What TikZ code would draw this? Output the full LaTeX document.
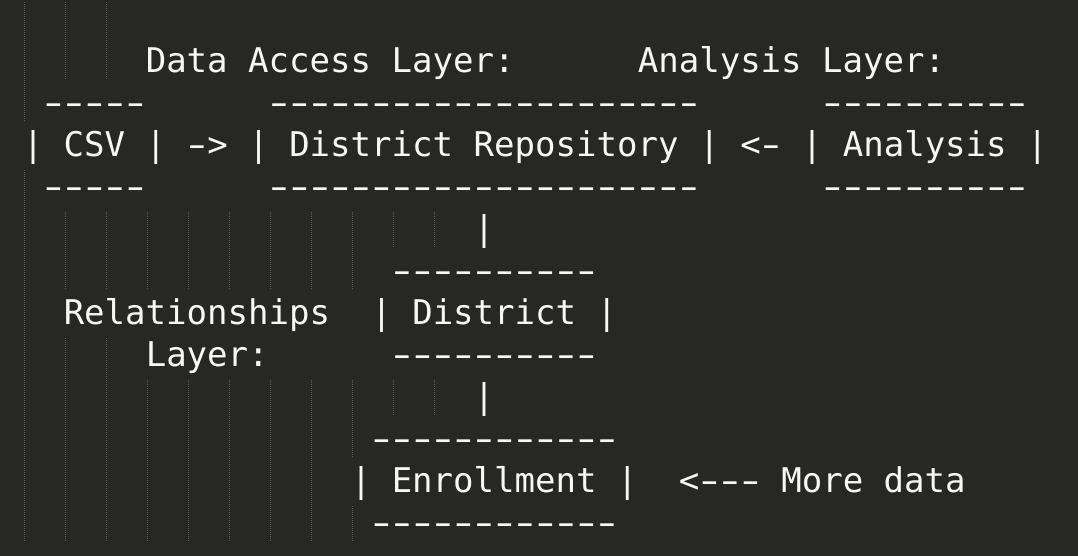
\documentclass[tikz,border=0pt]{standalone}
\usepackage{fontspec}
\usepackage{graphicx}
\setmonofont{DejaVu Sans Mono}
\definecolor{bg}{HTML}{272822}
\definecolor{fg}{HTML}{F8F8F2}
\definecolor{guidec}{HTML}{5A5A54}
% a hyphen drawn wide, as the editor font shows it, kept in its monospace cell
\newcommand\hyph{\makebox[0.602em][c]{\scalebox{1.55}[1]{-}}}
\newcommand\dashrow[1]{\foreach \i in {1,...,#1}{\hyph}}
\begin{document}
\begin{tikzpicture}[x=1pt,y=1pt,
  txt/.style={anchor=base west, inner sep=0pt, outer sep=0pt, text=fg,
    font=\fontsize{34.05}{42}\selectfont\ttfamily},
  guide/.style={draw=guidec, line width=1pt, dash pattern=on 1pt off 1pt}]
\fill[bg] (0,0) rectangle (1078,556);
\useasboundingbox (0,0) rectangle (1078,556);
% indentation guides: column / first row / last row
\foreach \c/\a/\b in {0/0/2, 0/4/12,
  2/0/1, 2/5/6, 2/8/12, 4/0/1, 4/5/6, 4/8/12,
  6/5/6, 6/9/12, 8/5/6, 8/9/12, 10/5/6, 10/9/12, 12/5/6, 12/9/12, 14/5/6, 14/9/12,
  16/5/6, 16/9/10, 16/12/12,
  18/5/5, 18/9/9, 20/5/5, 20/9/9}
  \draw[guide] ({24.5+20.5*\c},{554-42*\a}) -- ({24.5+20.5*\c},{518-42*\b});
% row 1
\node[txt] (dal) at ({22.75+20.5*6},{525-42*1}) {Data Access Layer:};
\node[txt] (al)  at ({22.75+20.5*30},{525-42*1}) {Analysis Layer:};
% row 2
\node[txt] (csvt)  at ({22.75+20.5*1},{525-42*2}) {\dashrow{5}};
\node[txt] (repot) at ({22.75+20.5*12},{525-42*2}) {\dashrow{21}};
\node[txt] (ant)   at ({22.75+20.5*39},{525-42*2}) {\dashrow{10}};
% row 3
\node[txt] (csv)  at ({22.75+20.5*0},{525-42*3}) {| CSV |};
\node[txt] (ar1)  at ({22.75+20.5*8},{525-42*3}) {\hyph>};
\node[txt] (repo) at ({22.75+20.5*11},{525-42*3}) {| District Repository |};
\node[txt] (ar2)  at ({22.75+20.5*35},{525-42*3}) {<\hyph};
\node[txt] (an)   at ({22.75+20.5*38},{525-42*3}) {| Analysis |};
% row 4
\node[txt] (csvb)  at ({22.75+20.5*1},{525-42*4}) {\dashrow{5}};
\node[txt] (repob) at ({22.75+20.5*12},{525-42*4}) {\dashrow{21}};
\node[txt] (anb)   at ({22.75+20.5*39},{525-42*4}) {\dashrow{10}};
% row 5
\node[txt] (v1) at ({22.75+20.5*22},{525-42*5}) {|};
% row 6
\node[txt] (distt) at ({22.75+20.5*18},{525-42*6}) {\dashrow{10}};
% row 7
\node[txt] (rel)  at ({22.75+20.5*2},{525-42*7}) {Relationships};
\node[txt] (dist) at ({22.75+20.5*17},{525-42*7}) {| District |};
% row 8
\node[txt] (lay)   at ({22.75+20.5*6},{525-42*8}) {Layer:};
\node[txt] (distb) at ({22.75+20.5*18},{525-42*8}) {\dashrow{10}};
% row 9
\node[txt] (v2) at ({22.75+20.5*22},{525-42*9}) {|};
% row 10
\node[txt] (enrt) at ({22.75+20.5*17},{525-42*10}) {\dashrow{12}};
% row 11
\node[txt] (enr)  at ({22.75+20.5*16},{525-42*11}) {| Enrollment |};
\node[txt] (more) at ({22.75+20.5*32},{525-42*11}) {<\hyph\hyph\hyph{} More data};
% row 12
\node[txt] (enrb) at ({22.75+20.5*17},{525-42*12}) {\dashrow{12}};
\end{tikzpicture}
\end{document}
